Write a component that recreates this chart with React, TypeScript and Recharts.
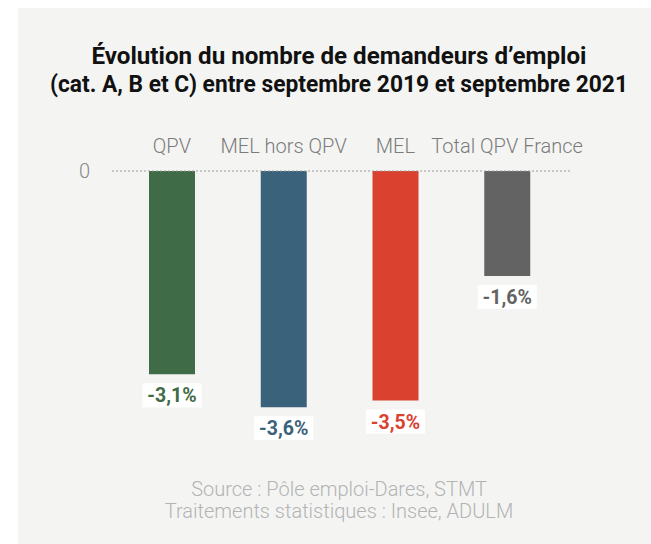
import React from "react";
import { BarChart, Bar, XAxis, YAxis, Cell, LabelList, ReferenceLine } from "recharts";

const categories = ["QPV", "MEL hors QPV", "MEL", "Total QPV France"];
const values = [-3.1, -3.6, -3.5, -1.6];
const valueLabels = ["-3,1%", "-3,6%", "-3,5%", "-1,6%"];
const colors = ["#3f6b47", "#3b627b", "#da412f", "#636363"];
const titleLines = [
  "Évolution du nombre de demandeurs d’emploi",
  "(cat. A, B et C) entre septembre 2019 et septembre 2021",
];
const sourceLines = ["Source : Pôle emploi-Dares, STMT", "Traitements statistiques : Insee, ADULM"];

const data = categories.map((name, i) => ({ name, value: values[i] }));

const FONT = "Roboto, 'Noto Sans', sans-serif";

const CategoryTick = (props) => {
  const { x, y, payload } = props;
  return (
    <text x={x} y={y - 10} textAnchor="middle" fill="#7b7b7b" fontSize={20} fontWeight={300} fontFamily={FONT}>
      {payload.value}
    </text>
  );
};

const ZeroTick = (props) => {
  const { x, y, payload } = props;
  return (
    <text x={x - 14} y={y} dy="0.355em" textAnchor="end" fill="#888" fontSize={20} fontWeight={300} fontFamily={FONT}>
      {payload.value}
    </text>
  );
};

const ValueLabel = (props) => {
  const { x, y, width, height, index } = props;
  const bottom = Math.max(y, y + height);
  const cx = x + width / 2;
  const top = bottom + 9;
  return (
    <g>
      <rect x={cx - 29.5} y={top} width={59} height={24} fill="#fff" />
      <text
        x={cx}
        y={top + 12}
        dy="0.36em"
        textAnchor="middle"
        fill={colors[index]}
        fontSize={19.5}
        fontWeight={700}
        fontFamily={FONT}
      >
        {valueLabels[index]}
      </text>
    </g>
  );
};

export default function App() {
  return (
    <div style={{ position: "absolute", left: 0, top: 0, width: 651, height: 544, background: "#fff", overflow: "hidden" }}>
      <div style={{ position: "absolute", left: 18, top: 8, width: 633, height: 536, background: "#f4f5f3" }} />
      <div style={{ position: "absolute", left: 0, top: 0 }}>
        <BarChart width={651} height={544} data={data} margin={{ top: 131, right: 81, bottom: 45, left: 0 }}>
          <XAxis
            dataKey="name"
            orientation="top"
            height={40}
            tickLine={false}
            axisLine={false}
            padding={{ left: 4, right: 7 }}
            tick={CategoryTick}
            interval={0}
          />
          <YAxis domain={[-5, 0]} ticks={[0]} width={112} tickLine={false} axisLine={false} tick={ZeroTick} />
          <ReferenceLine y={0} stroke="#9a9a9a" strokeDasharray="2 2" />
          <Bar dataKey="value" barSize={46} isAnimationActive={false}>
            {data.map((d, i) => (
              <Cell key={i} fill={colors[i]} />
            ))}
            <LabelList dataKey="value" content={ValueLabel} />
          </Bar>
        </BarChart>
      </div>
      <svg width={651} height={544} style={{ position: "absolute", left: 0, top: 0, pointerEvents: "none" }}>
        <text x={339} y={64} textAnchor="middle" fontSize={23} fontWeight={700} fill="#111" fontFamily={FONT} textLength={495} lengthAdjust="spacingAndGlyphs">
          {titleLines[0]}
        </text>
        <text x={339} y={92} textAnchor="middle" fontSize={23} fontWeight={700} fill="#111" fontFamily={FONT} textLength={578} lengthAdjust="spacingAndGlyphs">
          {titleLines[1]}
        </text>
        <text x={339} y={496} textAnchor="middle" fontSize={20} fontWeight={300} fill="#b3b3b3" fontFamily={FONT}>
          {sourceLines[0]}
        </text>
        <text x={339} y={518} textAnchor="middle" fontSize={20} fontWeight={300} fill="#b3b3b3" fontFamily={FONT}>
          {sourceLines[1]}
        </text>
      </svg>
    </div>
  );
}
